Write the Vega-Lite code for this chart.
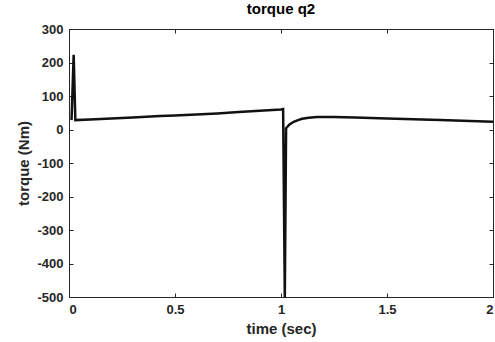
{
  "$schema": "https://vega.github.io/schema/vega-lite/v6.json",
  "width": 424,
  "height": 268,
  "autosize": {"type": "none"},
  "padding": {"left": 69, "top": 29, "right": 2, "bottom": 45},
  "background": "white",
  "title": {"text": "torque q2", "fontSize": 15, "font": "Liberation Sans", "fontWeight": "bold", "color": "#000000", "offset": 6},
  "data": {"values": [
    {"t": 0.012, "v": 28},
    {"t": 0.022, "v": 223},
    {"t": 0.03, "v": 28},
    {"t": 0.1, "v": 30},
    {"t": 0.2, "v": 33},
    {"t": 0.3, "v": 36},
    {"t": 0.43, "v": 40},
    {"t": 0.5, "v": 42},
    {"t": 0.6, "v": 45},
    {"t": 0.7, "v": 48},
    {"t": 0.8, "v": 52},
    {"t": 0.9, "v": 56},
    {"t": 1.0, "v": 60},
    {"t": 1.01, "v": 61},
    {"t": 1.018, "v": -500},
    {"t": 1.024, "v": 4},
    {"t": 1.04, "v": 15},
    {"t": 1.06, "v": 23},
    {"t": 1.08, "v": 28},
    {"t": 1.1, "v": 32},
    {"t": 1.13, "v": 35},
    {"t": 1.17, "v": 37},
    {"t": 1.25, "v": 37},
    {"t": 1.35, "v": 36},
    {"t": 1.5, "v": 33},
    {"t": 1.75, "v": 28},
    {"t": 2.0, "v": 23}
  ]},
  "layer": [
    {
      "mark": {"type": "line", "color": "#111111", "strokeWidth": 2.5, "clip": true},
      "encoding": {
        "x": {"field": "t", "type": "quantitative", "scale": {"domain": [0, 2], "nice": false},
              "axis": {"orient": "bottom", "values": [0, 0.5, 1, 1.5, 2], "title": "time (sec)", "format": "~g"}},
        "y": {"field": "v", "type": "quantitative", "scale": {"domain": [-500, 300], "nice": false},
              "axis": {"orient": "left", "values": [-500, -400, -300, -200, -100, 0, 100, 200, 300], "title": "torque (Nm)", "labelExpr": "'' + datum.value"}}
      }
    },
    {
      "mark": {"type": "line", "opacity": 0, "clip": true},
      "encoding": {
        "x": {"field": "t", "type": "quantitative", "scale": {"domain": [0, 2], "nice": false},
              "axis": {"orient": "top", "values": [0, 0.5, 1, 1.5, 2], "title": null, "labels": false}},
        "y": {"field": "v", "type": "quantitative", "scale": {"domain": [-500, 300], "nice": false},
              "axis": {"orient": "right", "values": [-500, -400, -300, -200, -100, 0, 100, 200, 300], "title": null, "labels": false}}
      }
    }
  ],
  "resolve": {"axis": {"x": "independent", "y": "independent"}},
  "config": {
    "view": {"stroke": null},
    "axis": {
      "grid": false,
      "domainColor": "#262626",
      "domainWidth": 1,
      "tickColor": "#262626",
      "tickSize": -4,
      "labelFont": "Liberation Sans",
      "labelFontWeight": "bold",
      "labelFontSize": 13,
      "labelColor": "#262626",
      "labelPadding": 10,
      "titleFont": "Liberation Sans",
      "titleFontWeight": "bold",
      "titleFontSize": 15,
      "titleColor": "#262626",
      "titlePadding": 5
    }
  }
}
